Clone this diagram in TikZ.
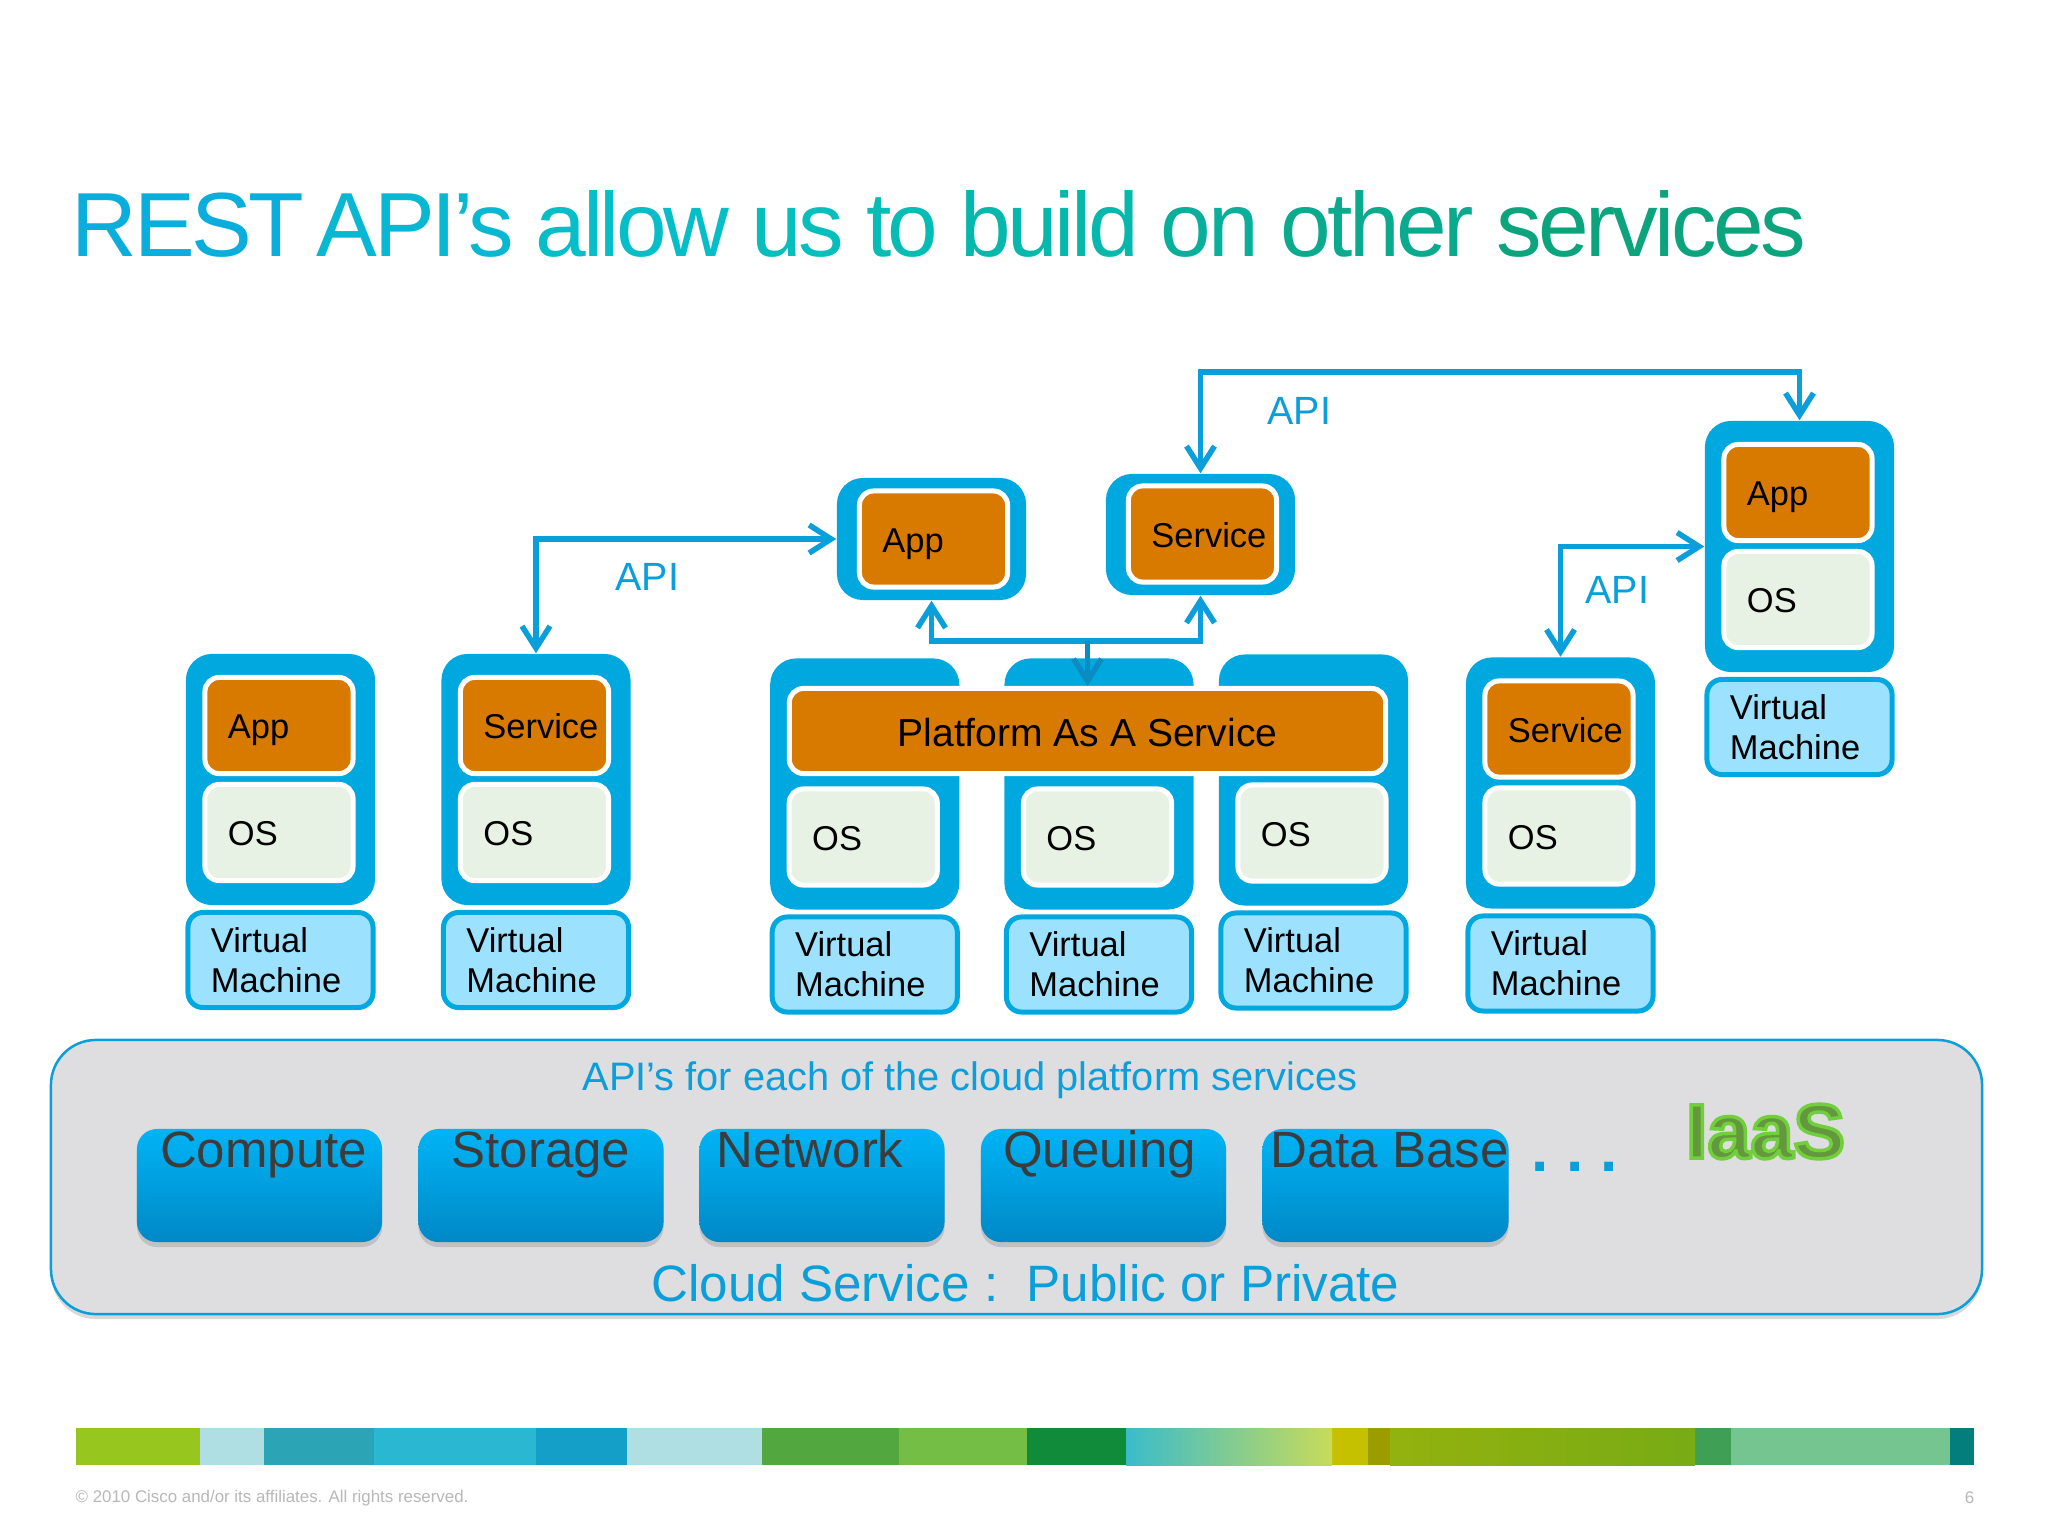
\documentclass[tikz,border=0pt]{standalone}
\usepackage{fontspec}
\setmainfont{Liberation Sans}
\newfontfamily\titlefont[LetterSpace=-3.8]{Liberation Sans}
\usetikzlibrary{calc,backgrounds,arrows.meta,shadows}
\definecolor{ciscoblue}{HTML}{00A8E0}
\definecolor{apiblue}{HTML}{0A9FDA}
\definecolor{apidark}{HTML}{0A8CC2}
\definecolor{vmfill}{HTML}{9CE2FF}
\definecolor{orangebox}{HTML}{D97A00}
\definecolor{osfill}{HTML}{E8F2E4}
\definecolor{panelfill}{HTML}{DEDDDF}
\definecolor{txtgrey}{HTML}{3C3C3C}
\definecolor{ciscotop}{HTML}{00B4F5}
\definecolor{ciscobot}{HTML}{0088C6}
\definecolor{iaasfill}{HTML}{64983F}

\begin{document}
\begin{tikzpicture}[%
    x=0.01cm, y=-0.01cm,%
    show background rectangle,%
    tight background,%
    background rectangle/.style={fill=white}%
    ]
    % Styles
    \tikzset{fleche/.style={draw=apiblue, line width=0.055cm, {Straight Barb[length=0.22cm, width=0.28cm]}-{Straight Barb[length=0.22cm, width=0.28cm]}}}%
    \tikzset{flechebas/.style={draw=apidark, line width=0.055cm, -{Straight Barb[length=0.22cm, width=0.28cm]}}}%
    \tikzset{outerbox/.style={fill=ciscoblue, rounded corners=0.26cm, minimum width=1.89cm, inner sep=0}}%
    \tikzset{innerbox/.style={draw=white, line width=0.05cm, rounded corners=0.14cm, minimum width=1.48cm, minimum height=0.96cm,%
        text width=1.3cm, inner xsep=0.09cm, inner ysep=0, align=left, text height=0.33cm, text depth=0.07cm,%
        font=\fontsize{9.8}{11.4}\selectfont, execute at begin node={\hspace*{0.14cm}}}}%
    \tikzset{topbox/.style={innerbox, fill=orangebox}}%
    \tikzset{osbox/.style={innerbox, fill=osfill}}%
    \tikzset{vmbox/.style={draw=ciscoblue, fill=vmfill, line width=0.05cm, rounded corners=0.15cm, minimum width=1.85cm, minimum height=0.95cm,%
        text width=1.39cm, inner xsep=0.23cm, inner ysep=0, align=left, font=\fontsize{9.8}{11.4}\selectfont}}%
    \tikzset{apilabel/.style={text=apiblue, font=\fontsize{11.2}{13}\selectfont, inner sep=0, anchor=west}}%
    \tikzset{cloudbox/.style={top color=ciscotop, bottom color=ciscobot, rounded corners=0.2cm, minimum width=2.45cm, minimum height=1.13cm,%
        inner sep=0, text height=0.38cm, text depth=0.75cm, text=txtgrey, font=\fontsize{14.5}{16}\selectfont,%
        drop shadow={shadow xshift=0cm, shadow yshift=-0.05cm, opacity=0.3}}}%
    \tikzset{vm/.pic={%
        \node[outerbox, minimum height=2.51cm] (outer) at (0,0) {};%
        \node[osbox] (os) at (-1.5,53) {OS};%
        \node[vmbox] (vm) at (0,180.5) {Virtual\\Machine};%
    }}%
    \tikzset{vmtop/.pic={\node[topbox] (top) at (-1.5,-54) {#1};}}%

    \useasboundingbox (0,0) rectangle (2048,1536);%

    % Title
    \node[anchor=west, inner sep=0, font=\titlefont\fontsize{25.9}{30}\selectfont] (title) at (71,224) {%
        \textcolor[HTML]{0AAEDC}{REST} \hspace{-2.6pt}\textcolor[HTML]{08B8D2}{API’s} \textcolor[HTML]{06BEC8}{allow} \textcolor[HTML]{06BFBC}{us} \textcolor[HTML]{05BDB4}{to} \textcolor[HTML]{05B8AC}{build} \textcolor[HTML]{08B09C}{on} \textcolor[HTML]{0AAA8E}{other} \textcolor[HTML]{0CA47C}{services}};%

    % Cloud panel
    \node[fill=panelfill, draw=apiblue, line width=0.025cm, rounded corners=0.45cm, minimum width=19.3cm, minimum height=2.74cm, inner sep=0,%
        drop shadow={shadow xshift=0cm, shadow yshift=-0.05cm, opacity=0.3}] (panel) at (1016.5,1177) {};%
    \node[text=apiblue, inner sep=0, font=\fontsize{11.3}{13}\selectfont] (apis) at (970,1080) {API’s for each of the cloud platform services};%
    \foreach \nom/\px/\txt in {compute/259.5/\kern0.08cm Compute, storage/541/Storage, network/822/Network\kern0.24cm, queuing/1103.5/Queuing\kern0.08cm, database/1385.5/\kern0.08cm Data Base}{%
        \node[cloudbox] (\nom) at (\px,1185.5) {\txt};%
    }%
    \node[anchor=base, text=apiblue, inner sep=0, font=\bfseries\fontsize{17.7}{20}\selectfont] (dots) at (1575,1171) {\frenchspacing . . .};%
    \node[text=apiblue, inner sep=0, font=\fontsize{14.55}{16}\selectfont] (cloudservice) at (1025.5,1283) {Cloud Service :~~Public or Private};%
    \node[inner sep=0, text=iaasfill, font=\bfseries\fontsize{22}{26}\selectfont] (iaas) at (1765.5,1131.5) {%
        \special{pdf:code 2 Tr 1 w 0.44 0.81 0.23 RG}IaaS\special{pdf:code 0 Tr}};%

    % Stacks
    \path (280.5,779.5) pic (sa) {vm} pic (sa) {vmtop=App};%
    \path (536,779.5) pic (sb) {vm} pic (sb) {vmtop=Service};%
    \path (1560.5,783) pic (sf) {vm} pic (sf) {vmtop=Service};%
    \path (1799.5,546.5) pic (sg) {vm} pic (sg) {vmtop=App};%
    \path (864.75,784) pic (sc) {vm};%
    \path (1099,784) pic (sd) {vm};%
    \path (1313.5,780) pic (se) {vm};%

    % Platform
    \node[draw=white, fill=orangebox, line width=0.05cm, rounded corners=0.14cm, minimum width=5.96cm, minimum height=0.85cm, inner sep=0,%
        text height=0.36cm, text depth=0.05cm, font=\fontsize{11.1}{13}\selectfont] (paas) at (1087.5,731) {Platform As A Service};%

    % Boxes above the platform
    \node[outerbox, minimum height=1.22cm] (appout) at (931.5,539) {};%
    \node[topbox] (app) at (933.5,539) {App};%
    \node[outerbox, minimum height=1.21cm] (svcout) at (1200.5,534.5) {};%
    \node[topbox] (svc) at (1202.5,534) {Service};%

    % API links
    \coordinate (haut) at (1500,372);%
    \coordinate (milieu) at (1087.5,641);%
    \draw[fleche] (sbouter.north) |- (appout.west);%
    \draw[fleche] (svcout.north) |- (haut) -| (sgouter.north);%
    \draw[fleche] (sfouter.north) |- (sgouter.west);%
    \draw[fleche] (appout.south) |- (milieu) -| (svcout.south);%
    \draw[flechebas] (milieu) -- (paas.north);%
    \node[apilabel] (apia) at (615,577) {API};%
    \node[apilabel] (apib) at (1267,411) {API};%
    \node[apilabel] (apic) at (1585,590) {API};%

    % Colour bar
    \foreach \xa/\xb/\coul in {76/200/97C61E, 200/264/B0DFE3, 264/374/2BA5B5, 374/535.5/2AB7D1, 535.5/627/149FC8, 627/761.5/B0DFE3, 761.5/899/52A83F, 899/1027/74BE46, 1027/1126/0F8B3A, 1332/1368/C5C000, 1368/1390/9A9C00, 1695/1731/3F9F55, 1731/1950/75C590, 1950/1974/047E7C}{%
        \definecolor{coulbar}{HTML}{\coul}%
        \fill[coulbar] (\xa,1428) rectangle (\xb,1465);%
    }%
    \definecolor{fonduA}{HTML}{3ABCCB}%
    \definecolor{fonduB}{HTML}{82C99A}%
    \definecolor{fonduC}{HTML}{C8DB5A}%
    \definecolor{fonduD}{HTML}{93B20F}%
    \definecolor{fonduE}{HTML}{78AB14}%
    \shade[left color=fonduA, middle color=fonduB, right color=fonduC] (1126,1428) rectangle (1332,1465);%
    \shade[left color=fonduD, right color=fonduE] (1390,1428) rectangle (1695,1465);%

    % Footer
    \node[anchor=west, inner sep=0, text=black!28, font=\fontsize{4.8}{6}\selectfont] (copyright) at (75,1498) {© 2010 Cisco and/or its affiliates. All rights reserved.};%
    \node[anchor=east, inner sep=0, text=black!28, font=\fontsize{4.8}{6}\selectfont] (page) at (1975,1498) {6};%
\end{tikzpicture}
\end{document}
